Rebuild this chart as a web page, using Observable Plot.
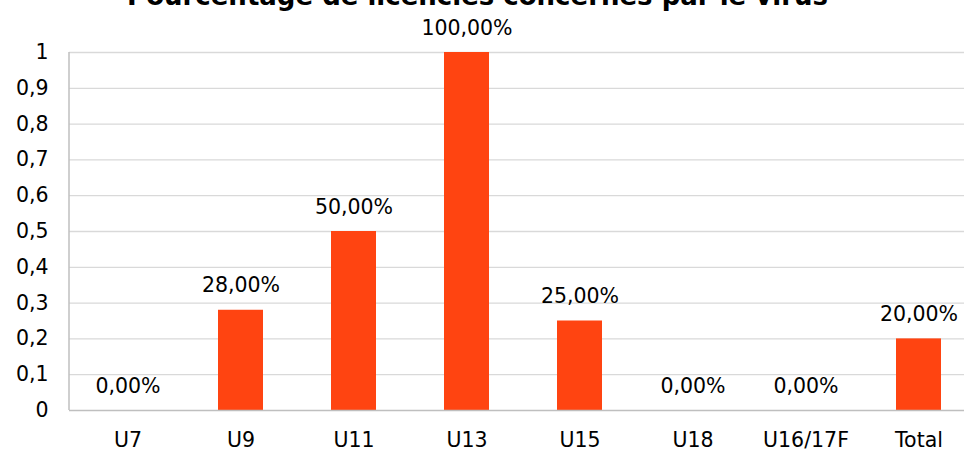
<!DOCTYPE html>
<html>
<head>
<meta charset="utf-8">
<script src="https://cdn.jsdelivr.net/npm/d3@7"></script>
<script src="https://cdn.jsdelivr.net/npm/@observablehq/plot@0.6"></script>
<style>
  html, body { margin: 0; padding: 0; background: #fff; }
  #chart svg { display: block; }
</style>
</head>
<body>
<div id="chart"></div>
<script>
// Share of licence holders affected, by age category
const title = "Pourcentage de licenciés concernés par le virus";
const categories = ["U7", "U9", "U11", "U13", "U15", "U18", "U16/17F", "Total"];
const values = [0, 0.28, 0.5, 1, 0.25, 0, 0, 0.2];
const yTicks = [0, 0.1, 0.2, 0.3, 0.4, 0.5, 0.6, 0.7, 0.8, 0.9, 1];

const data = categories.map((c, i) => ({category: c, value: values[i]}));

const frFraction = (d) => String(d).replace(".", ",");
const frPercent = (d) => (d * 100).toFixed(2).replace(".", ",") + "%";

const font = "DejaVu Sans, sans-serif";
const barColor = "#FF4411";
const gridColor = "#D9D9D9";
const axisColor = "#BFBFBF";

const W = 964, H = 455;
const frameLeft = 69, frameBottom = 410, frameTop = 52;

const chart = Plot.plot({
  width: W,
  height: H,
  marginLeft: frameLeft,
  marginRight: 0,
  marginTop: frameTop,
  marginBottom: H - frameBottom,
  style: {fontFamily: font, fontSize: "20px", color: "#000", background: "#fff"},
  x: {domain: categories, range: [frameLeft, 977], paddingInner: 0.6, paddingOuter: 0.3, label: null},
  y: {domain: [0, 1], label: null},
  marks: [
    Plot.ruleY(yTicks.filter((d) => d > 0), {stroke: gridColor, strokeWidth: 1.3}),
    Plot.barY(data, {x: "category", y: "value", fill: barColor}),
    Plot.ruleY([0], {stroke: axisColor, strokeWidth: 1.5}),
    Plot.axisY(yTicks, {tickSize: 0, tickPadding: 21, tickFormat: frFraction, fontSize: 20.5, fill: "#000"}),
    Plot.axisX({tickSize: 0, tickPadding: 22, fontSize: 20.5, fill: "#000"}),
    Plot.text(data, {x: "category", y: "value", text: (d) => frPercent(d.value), lineAnchor: "bottom", dy: -18, fontSize: 20.5, fill: "#000"}),
    Plot.text([title], {frameAnchor: "top", lineAnchor: "bottom", dy: -48, dx: -39.5, fontSize: 26, fontWeight: "bold", fill: "#000"})
  ]
});

// left spine of the plotting frame
d3.select(chart).append("line")
  .attr("x1", frameLeft).attr("x2", frameLeft)
  .attr("y1", frameTop).attr("y2", frameBottom)
  .attr("stroke", axisColor).attr("stroke-width", 1.5);

document.getElementById("chart").appendChild(chart);
</script>
</body>
</html>
